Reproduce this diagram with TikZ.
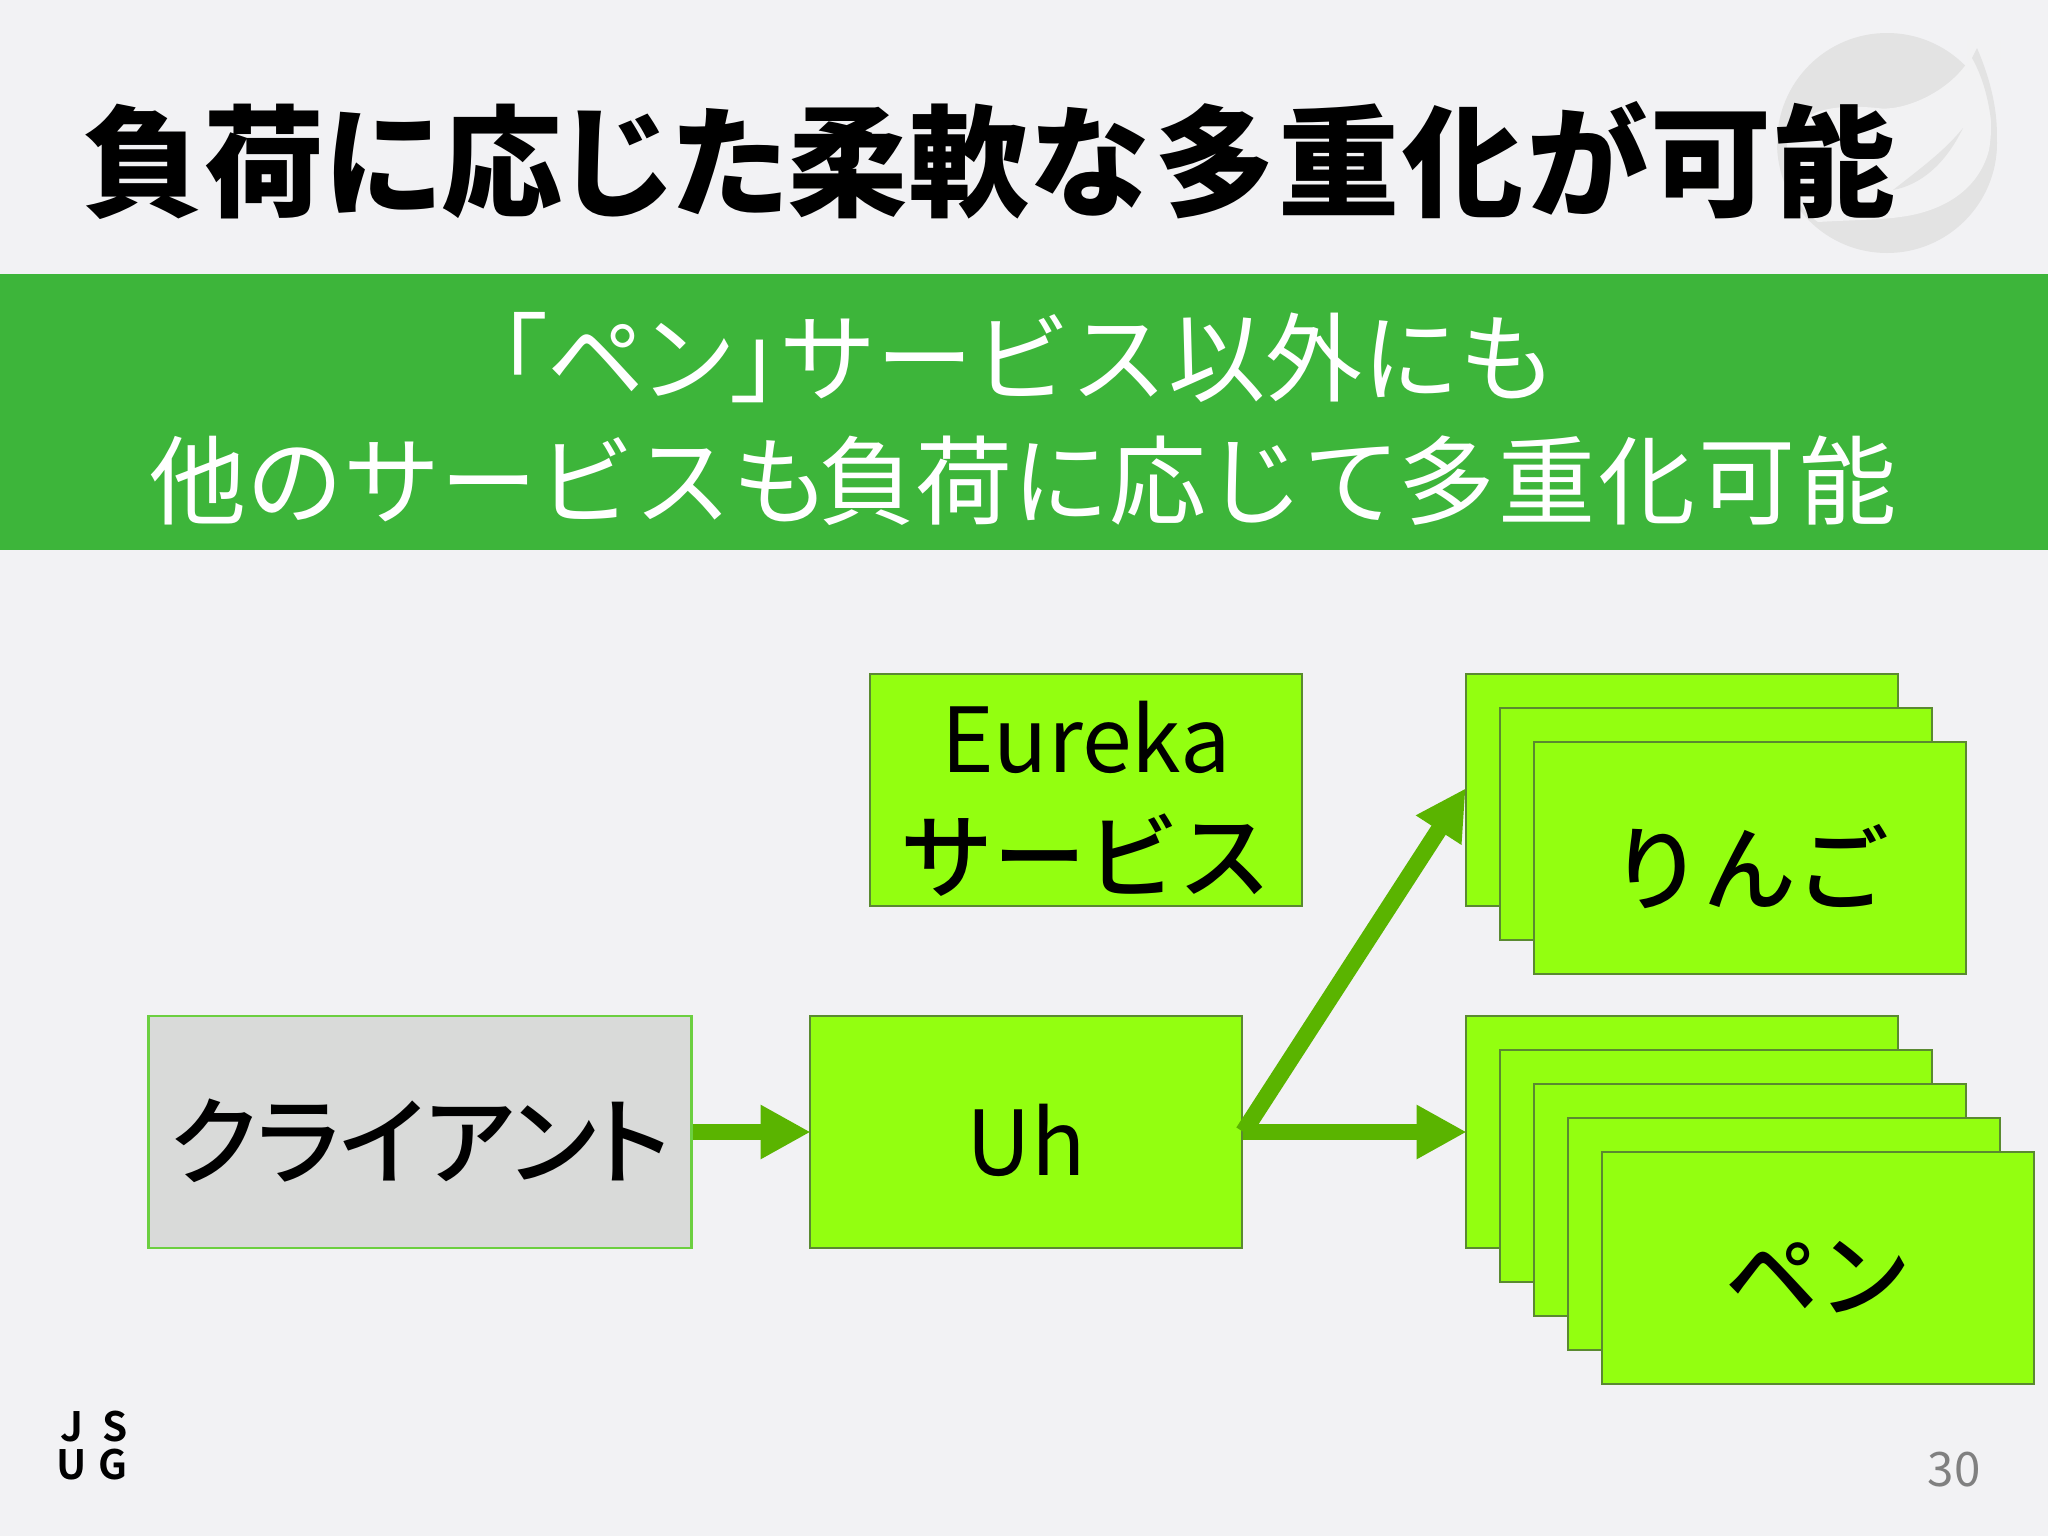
\documentclass[tikz,border=0pt]{standalone}
\usepackage{fontspec}
\usepackage{tikz}
\usetikzlibrary{arrows.meta}
\setmainfont{Noto Sans CJK JP}
\newfontfamily\titlefont[RawFeature=+palt]{Noto Sans CJK JP Black}
\newfontfamily\boxfont{Noto Sans CJK JP Medium}
\newfontfamily\boxpalt[RawFeature=+palt]{Noto Sans CJK JP Medium}
\newfontfamily\bannerpalt[RawFeature=+palt]{Noto Sans CJK JP}
\newfontfamily\logofont{Noto Sans CJK JP Bold}
\newcommand{\lowered}[1]{\raisebox{0pt}[\dimexpr\height+5pt][\depth]{#1}}
\newcommand{\gap}{\kern0.9pt }
\definecolor{slidebg}{HTML}{F2F2F4}
\definecolor{bannergreen}{HTML}{3DB53A}
\definecolor{boxgreen}{HTML}{93FF10}
\definecolor{edgegreen}{HTML}{5A8A30}
\definecolor{clientedge}{HTML}{6CCF40}
\definecolor{clientgrey}{HTML}{D9DAD9}
\definecolor{arrowgreen}{HTML}{5AB400}
\definecolor{leafdark}{HTML}{E3E3E3}
\definecolor{leaflight}{HTML}{F2F2F3}
\tikzset{
	svcbox/.style={draw=edgegreen, line width=0.75pt, fill=boxgreen, minimum width=4.32cm, minimum height=2.32cm, inner sep=0pt, align=center, font=\boxfont\fontsize{26.4}{34}\selectfont},
	clientbox/.style={svcbox, draw=clientedge, fill=clientgrey, minimum width=5.43cm},
	flow/.style={draw=arrowgreen, line width=4.8pt, -{Triangle[length=14.2pt, width=14.4pt]}, shorten >=-0.6pt},
	bannertext/.style={text=white, inner sep=0pt, font=\fontsize{27.6}{34}\selectfont},
	logotext/.style={inner sep=0pt, font=\logofont\fontsize{11.5}{12}\selectfont}
}
\begin{document}
\begin{tikzpicture}[x=0.01cm, y=-0.01cm]
	\useasboundingbox (0,0) rectangle (2048,1536);
	\path[fill=slidebg] (0,0) rectangle (2048,1536);
	% leaf
	\path[fill=leafdark] (1887,143) circle (110);
	\path[fill=leaflight] (1967,63) .. controls (1945,95) and (1900,112) .. (1877,108)
		.. controls (1845,105) and (1800,105) .. (1788,140)
		.. controls (1780,180) and (1800,210) .. (1818,222)
		.. controls (1850,220) and (1880,220) .. (1900,217)
		.. controls (1940,212) and (1978,192) .. (1989,150)
		.. controls (1994,120) and (1990,90) .. (1981,63)
		-- (2000,60) -- (2000,40) -- (1967,40) -- cycle;
	\path[fill=leafdark] (1977,48) .. controls (1995,90) and (2002,130) .. (1993,170)
		.. controls (1994,130) and (1990,90) .. (1972,58) -- cycle;
	\path[fill=leafdark] (1963,128) .. controls (1945,165) and (1920,185) .. (1893,190)
		.. controls (1925,165) and (1945,150) .. (1963,128) -- cycle;
	% title
	\node[inner sep=0pt] (title) at (989,160) {\titlefont\fontsize{34.4}{40}\selectfont 負荷に応じた柔軟な\kern1.8pt 多\gap 重\gap 化\gap が\gap 可\gap 能};
	% banner
	\path[fill=bannergreen] (0,274) rectangle (2048,550);
	\node[bannertext] (lineA) at (1027,358) {{\bannerpalt 「ペン」}サービス以外にも};
	\node[bannertext] (lineB) at (1023,481) {他のサービスも\kern-3pt 負荷に応じて\kern-0.7pt 多\gap 重\gap 化\gap 可\gap 能};
	% boxes
	\node[svcbox] (eureka) at (1086,790) {\lowered{\rmfamily\fontsize{25.5}{34}\selectfont Eureka}\\サービス};
	\node[clientbox] (client) at (420,1132) {\lowered{\boxpalt\fontsize{27.4}{34}\selectfont クライアント}};
	\node[svcbox] (uh) at (1026,1132) {\lowered{\rmfamily\fontsize{25.5}{34}\selectfont Uh}};
	\node[svcbox] (apple0) at (1682,790) {};
	\node[svcbox] (apple1) at (1716,824) {};
	\node[svcbox] (apple2) at (1750,858) {\lowered{りんご}};
	\node[svcbox] (pen0) at (1682,1132) {};
	\node[svcbox] (pen1) at (1716,1166) {};
	\node[svcbox] (pen2) at (1750,1200) {};
	\node[svcbox] (pen3) at (1784,1234) {};
	\node[svcbox] (pen4) at (1818,1268) {\lowered{ペン}};
	% arrows
	\draw[flow] (client.east) -- (uh.west);
	\draw[flow] (uh.east) -- (apple0.west);
	\draw[flow] (uh.east) -- (pen0.west);
	% logo and page
	\node[logotext] (logoJ) at (72,1427) {J};
	\node[logotext] (logoS) at (115,1427) {S};
	\node[logotext] (logoU) at (72,1465) {U};
	\node[logotext] (logoG) at (113,1465) {G};
	\node[font=\fontsize{13.5}{16}\selectfont, text=black!50, inner sep=0pt] (page) at (1954,1470) {30};
\end{tikzpicture}
\end{document}
